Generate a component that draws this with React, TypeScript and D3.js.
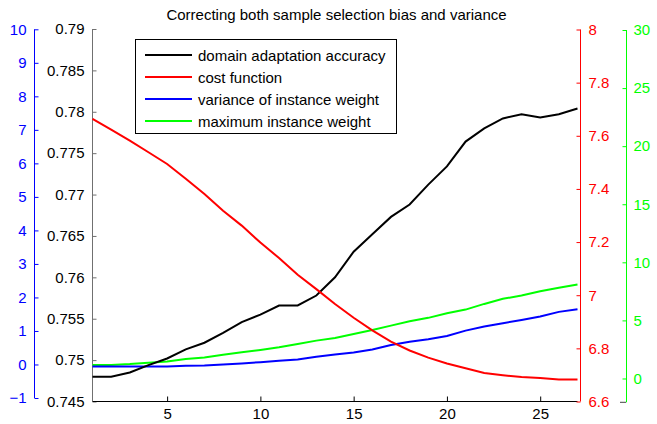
import * as d3 from "d3";
import { useRef, useEffect } from "react";

const iterations = d3.range(1, 28);

// domain adaptation accuracy (left black axis)
const accuracy = [
  0.748, 0.748, 0.7485, 0.7494, 0.7502, 0.7513, 0.7521, 0.7533, 0.7546,
  0.7555, 0.7566, 0.7566, 0.7578, 0.76, 0.7631, 0.7652, 0.7673, 0.7688,
  0.7712, 0.7734, 0.7764, 0.778, 0.7792, 0.7797, 0.7793, 0.7797, 0.7804,
];

// cost function (right red axis)
const cost = [
  7.664, 7.623, 7.582, 7.538, 7.494, 7.438, 7.381, 7.318, 7.262, 7.198,
  7.14, 7.077, 7.023, 6.967, 6.915, 6.868, 6.825, 6.792, 6.765, 6.743,
  6.725, 6.707, 6.699, 6.692, 6.688, 6.683, 6.683,
];

// variance of instance weight (far left blue axis)
const variance = [
  -0.06, -0.06, -0.06, -0.06, -0.06, -0.04, -0.03, 0.0, 0.03, 0.07, 0.11,
  0.15, 0.23, 0.3, 0.36, 0.45, 0.58, 0.68, 0.75, 0.85, 1.01, 1.13, 1.23,
  1.33, 1.43, 1.57, 1.65,
];

// maximum instance weight (far right green axis)
const maxWeight = [
  1.16, 1.16, 1.24, 1.36, 1.47, 1.67, 1.81, 2.05, 2.25, 2.45, 2.68, 2.97,
  3.26, 3.49, 3.83, 4.18, 4.55, 4.92, 5.22, 5.61, 5.93, 6.42, 6.86, 7.14,
  7.51, 7.81, 8.09,
];

const xTicks = [5, 10, 15, 20, 25];
const accTicks = d3.range(0, 10).map((i) => 0.745 + i * 0.005);
const costTicks = d3.range(0, 8).map((i) => 6.6 + i * 0.2);
const varTicks = d3.range(-1, 11);
const maxTicks = [0, 5, 10, 15, 20, 25, 30];

const legendLabels = [
  "domain adaptation accuracy",
  "cost function",
  "variance of instance weight",
  "maximum instance weight",
];
const colours = ["#000000", "#ff0000", "#0000ff", "#00ff00"];

const width = 657;
const height = 424;
const font = "'Liberation Sans', Arial, sans-serif";

const fmt = (digits) => (d) => {
  const s = String(+d.toFixed(digits));
  return s.startsWith("-") ? "\u2212" + s.slice(1) : s;
};

export default function App() {
  const chartRef = useRef(null);

  useEffect(() => {
    const svg = d3.select(chartRef.current);
    svg.selectAll("*").remove();

    // Scales
    const x = d3.scaleLinear().domain([1, 27]).range([92.5, 577.5]);
    const yAcc = d3.scaleLinear().domain([0.745, 0.79]).range([401.5, 29]);
    const yCost = d3.scaleLinear().domain([6.6, 8]).range([401.5, 29.5]);
    const yVar = d3.scaleLinear().domain([-1, 10]).range([398, 29.3]);
    const yMax = d3.scaleLinear().domain([-2.05, 30]).range([402.3, 30]);

    const axisText = (g, colour, anchor) =>
      g
        .selectAll("text")
        .attr("fill", colour)
        .attr("font-size", 15)
        .attr("font-family", font)
        .attr("text-anchor", anchor);

    // Blue axis, far left
    const gVar = svg
      .append("g")
      .attr("transform", "translate(34.5,0)")
      .call(d3.axisLeft(yVar).tickValues(varTicks).tickSize(-4).tickPadding(8).tickFormat(fmt(0)));
    gVar.select(".domain").attr("stroke", "#0000ff").attr("d", `M0,${yVar(-1)}V${yVar(10)}`);
    gVar.selectAll(".tick line").attr("stroke", "#0000ff");
    axisText(gVar, "#0000ff", "end");

    // Black accuracy axis
    const gAcc = svg
      .append("g")
      .attr("transform", "translate(92.5,0)")
      .call(d3.axisLeft(yAcc).tickValues(accTicks).tickSize(-4).tickPadding(8).tickFormat(fmt(3)));
    gAcc.select(".domain").attr("stroke", "#707070").attr("d", `M0,${yAcc(0.745)}V${yAcc(0.79)}`);
    gAcc.selectAll(".tick line").attr("stroke", "#707070");
    axisText(gAcc, "#000", "end");

    // Bottom x axis
    const gX = svg
      .append("g")
      .attr("transform", "translate(0,401.5)")
      .call(d3.axisBottom(x).tickValues(xTicks).tickSize(-5).tickPadding(7));
    gX.select(".domain").attr("stroke", "#000").attr("d", `M${x(1)},0H${x(27)}`);
    gX.selectAll(".tick line").attr("stroke", "#000");
    axisText(gX, "#000", "middle");

    // Red cost axis
    const gCost = svg
      .append("g")
      .attr("transform", "translate(580.5,0)")
      .call(d3.axisRight(yCost).tickValues(costTicks).tickSize(-4).tickPadding(8).tickFormat(fmt(1)));
    gCost.select(".domain").attr("stroke", "#ff0000").attr("d", `M0,${yCost(6.6)}V${yCost(8)}`);
    gCost.selectAll(".tick line").attr("stroke", "#ff0000");
    axisText(gCost, "#ff0000", "start");

    // Green max weight axis
    const gMax = svg
      .append("g")
      .attr("transform", "translate(626.5,0)")
      .call(d3.axisRight(yMax).tickValues(maxTicks).tickSize(-4).tickPadding(7));
    gMax.select(".domain").attr("stroke", "#00ff00").attr("d", `M0,${yMax(-2.05)}V${yMax(30)}`);
    gMax.selectAll(".tick line").attr("stroke", "#00ff00");
    axisText(gMax, "#00ff00", "start");
    svg
      .append("line")
      .attr("x1", 620)
      .attr("x2", 626)
      .attr("y1", yMax(-2.05))
      .attr("y2", yMax(-2.05))
      .attr("stroke", "#444");

    // Lines
    const series = [
      { values: accuracy, y: yAcc },
      { values: cost, y: yCost },
      { values: variance, y: yVar },
      { values: maxWeight, y: yMax },
    ];
    const order = [3, 2, 0, 1];
    order.forEach((i) => {
      const s = series[i];
      const line = d3
        .line()
        .x((d, j) => x(iterations[j]))
        .y((d) => s.y(d));
      svg
        .append("path")
        .attr("d", line(s.values))
        .attr("fill", "none")
        .attr("stroke", colours[i])
        .attr("stroke-width", 2);
    });

    // Title
    svg
      .append("text")
      .attr("x", 336.5)
      .attr("y", 20)
      .attr("text-anchor", "middle")
      .attr("font-size", 15)
      .attr("font-family", font)
      .text("Correcting both sample selection bias and variance");

    // Legend
    const legend = svg.append("g");
    legend
      .append("rect")
      .attr("x", 135.5)
      .attr("y", 39.5)
      .attr("width", 261)
      .attr("height", 94)
      .attr("fill", "#fff")
      .attr("stroke", "#000");
    const row = legend
      .selectAll("g.row")
      .data(legendLabels)
      .join("g")
      .attr("class", "row")
      .attr("transform", (d, i) => `translate(0,${55 + i * 22})`);
    row
      .append("line")
      .attr("x1", 145)
      .attr("x2", 192)
      .attr("stroke", (d, i) => colours[i])
      .attr("stroke-width", 2);
    row
      .append("text")
      .attr("x", 198)
      .attr("y", 5.5)
      .attr("font-size", 15)
      .attr("font-family", font)
      .text((d) => d);
  }, []);

  return (
    <svg
      ref={chartRef}
      width={width}
      height={height}
      style={{ position: "fixed", left: 0, top: 0, background: "#fff" }}
    ></svg>
  );
}
